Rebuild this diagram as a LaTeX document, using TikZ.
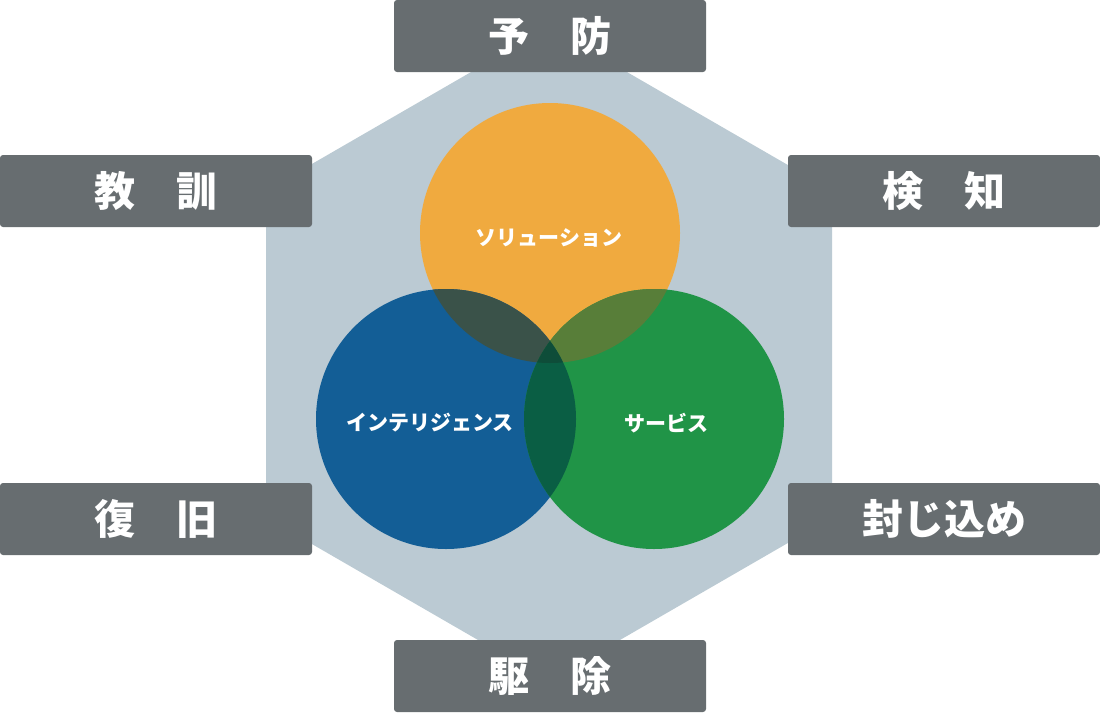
\documentclass[tikz,border=0pt]{standalone}
\usepackage{fontspec}
\newfontfamily\jpfont{Noto Sans CJK JP}
\usetikzlibrary{positioning}
\definecolor{hexgray}{HTML}{BBCAD3}
\definecolor{boxgray}{HTML}{676D70}
\definecolor{solorange}{HTML}{F0AA3F}
\definecolor{intblue}{HTML}{135E96}
\definecolor{srvgreen}{HTML}{209447}
\definecolor{obmix}{HTML}{3A5249}
\definecolor{ogmix}{HTML}{587E39}
\definecolor{bgmix}{HTML}{0A5E44}
\definecolor{allmix}{HTML}{0E4D39}
\tikzset{
      phasebox/.style = { fill=boxgray, rounded corners=3pt, minimum width=312pt,
                          minimum height=72pt, text=white, font=\jpfont\bfseries\fontsize{41}{41}\selectfont },
     circtext/.style = { text=white, font=\jpfont\bfseries\fontsize{21}{21}\selectfont },
         ring/.style = { radius=130pt }
}
\begin{document}
\begin{tikzpicture}[x=1pt, y=-1pt]
  \useasboundingbox (0,0) rectangle (1100,712);

  % hexagon
  \fill[hexgray] (549,27) -- (832,190.5) -- (832,517.5) -- (549,681)
                 -- (266,517.5) -- (266,190.5) -- cycle;

  % circles
  \coordinate (sol) at (550,233);
  \coordinate (int) at (446,419);
  \coordinate (srv) at (654,419);
  \fill[solorange] (sol) circle[ring];
  \fill[intblue] (int) circle[ring];
  \fill[srvgreen] (srv) circle[ring];

  % overlaps
  \begin{scope}
    \clip (sol) circle[ring];
    \fill[obmix] (int) circle[ring];
    \fill[ogmix] (srv) circle[ring];
  \end{scope}
  \begin{scope}
    \clip (int) circle[ring];
    \fill[bgmix] (srv) circle[ring];
    \clip (srv) circle[ring];
    \fill[allmix] (sol) circle[ring];
  \end{scope}

  \node[circtext] (soltext) at (549,238) {ソリューション};
  \node[circtext] (inttext) at (430,423) {インテリジェンス};
  \node[circtext] (srvtext) at (666,423) {サービス};

  % phases
  \node[phasebox] (prevent) at (550,36)  {予　防};
  \node[phasebox] (detect)  at (944,191) {検　知};
  \node[phasebox] (contain) at (944,519) {封じ込め};
  \node[phasebox] (remove)  at (550,676) {駆　除};
  \node[phasebox] (recover) at (156,519) {復　旧};
  \node[phasebox] (lesson)  at (156,191) {教　訓};
\end{tikzpicture}
\end{document}
